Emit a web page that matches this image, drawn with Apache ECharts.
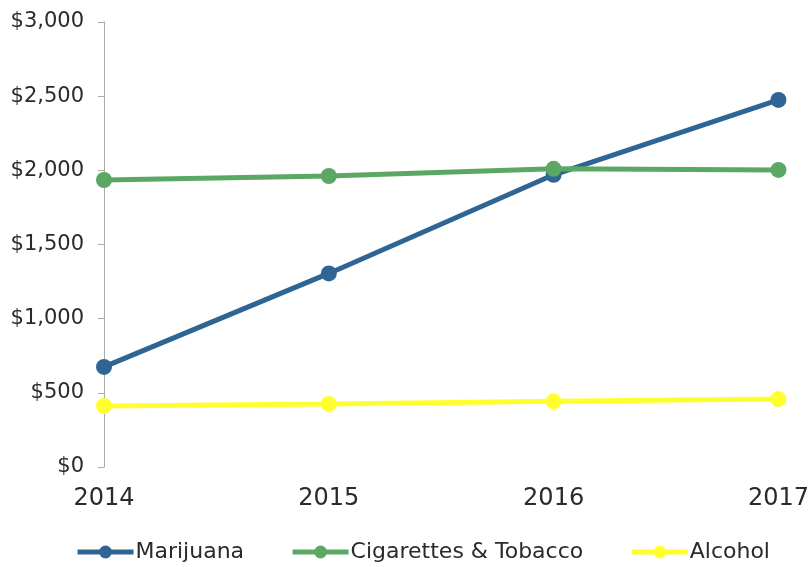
<!DOCTYPE html>
<html>
<head>
<meta charset="utf-8">
<script src="https://cdn.jsdelivr.net/npm/echarts@6/dist/echarts.min.js"></script>
<style>
  html, body { margin: 0; padding: 0; background: #fff; }
  #main { width: 812px; height: 567px; }
</style>
</head>
<body>
<div id="main"></div>
<script>
// 数据
var years = ['2014', '2015', '2016', '2017'];
var marijuana = [675, 1305, 1970, 2475];
var cigarettes = [1935, 1962, 2010, 2003];
var alcohol = [412, 425, 443, 458];

var chart = echarts.init(document.getElementById('main'));

function lineSeries(name, data, color) {
    return {
        name: name,
        type: 'line',
        data: data,
        symbol: 'circle',
        symbolSize: 16,
        lineStyle: { width: 5, color: color },
        itemStyle: { color: color },
        z: 2
    };
}

var font = 'DejaVu Sans';

var option = {
    animation: false,
    textStyle: { fontFamily: font },
    grid: {
        left: 104,
        right: 32,
        top: 22,
        bottom: 100
    },
    legend: {
        top: 536,
        left: 70,
        itemWidth: 56,
        itemHeight: 16,
        itemGap: 46,
        lineStyle: { width: 5 },
        textStyle: { fontSize: 22, color: '#2a2a2a', fontFamily: font, padding: [0, 0, 0, -3] },
        data: ['Marijuana', 'Cigarettes & Tobacco', 'Alcohol']
    },
    xAxis: {
        type: 'category',
        boundaryGap: false,
        data: years,
        axisLine: { show: false },
        axisTick: { show: false },
        axisLabel: { margin: 20, fontSize: 24, color: '#2a2a2a' }
    },
    yAxis: {
        type: 'value',
        min: 0,
        max: 3000,
        interval: 500,
        axisLine: { show: true, lineStyle: { color: '#aaa', width: 1 } },
        axisTick: { show: true, length: 6, lineStyle: { color: '#aaa' } },
        splitLine: { show: false },
        axisLabel: {
            margin: 20,
            fontSize: 21,
            color: '#2a2a2a',
            formatter: function (v) {
                return '$' + v.toLocaleString('en-US');
            }
        }
    },
    series: [
        lineSeries('Marijuana', marijuana, '#2f6592'),
        lineSeries('Cigarettes & Tobacco', cigarettes, '#5ba864'),
        lineSeries('Alcohol', alcohol, '#ffff30')
    ]
};

chart.setOption(option);
</script>
</body>
</html>
